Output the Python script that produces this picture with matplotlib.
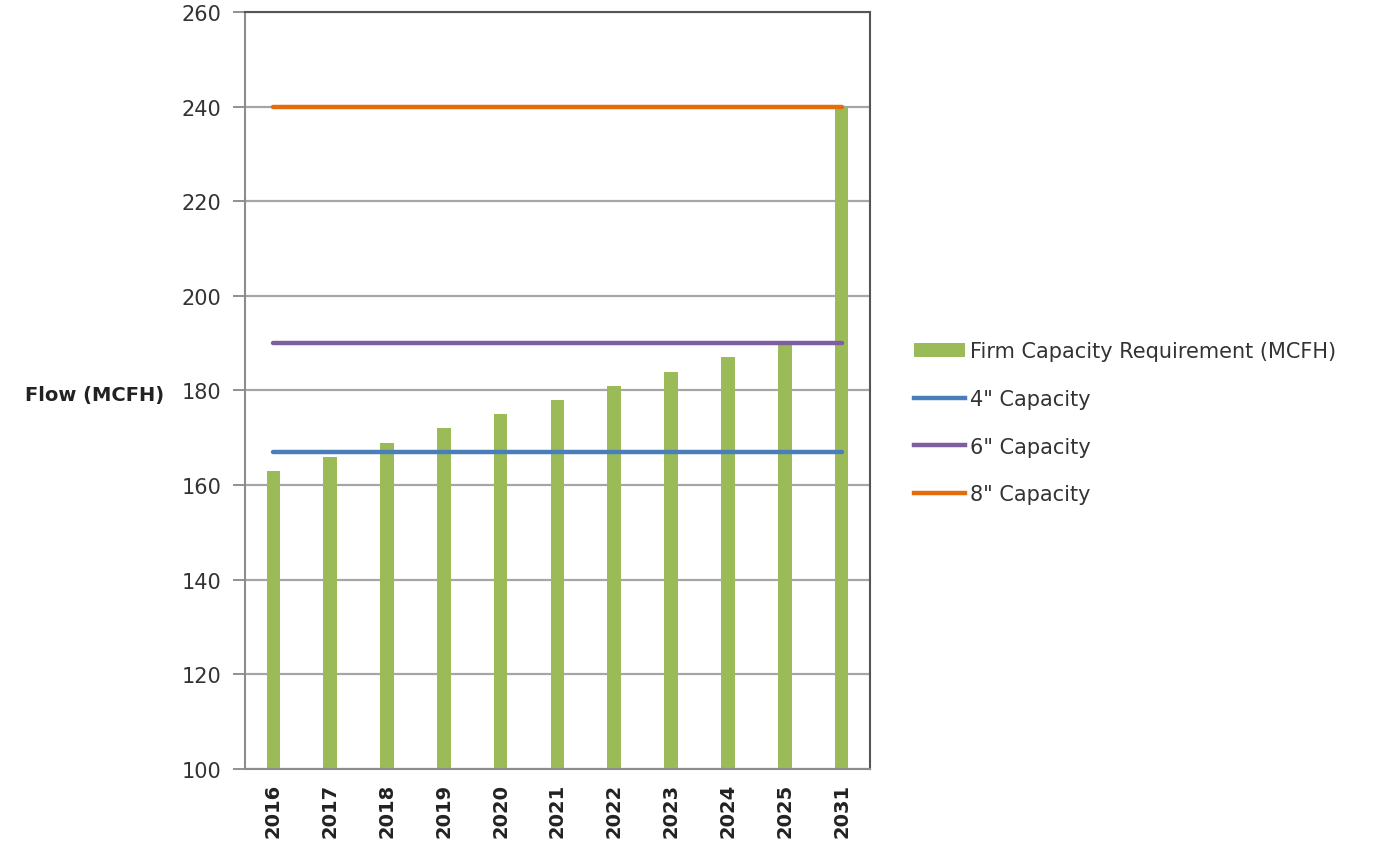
import matplotlib
matplotlib.use("Agg")
import matplotlib.pyplot as plt
from matplotlib.lines import Line2D
from matplotlib.patches import Patch

years = ["2016", "2017", "2018", "2019", "2020", "2021", "2022", "2023", "2024", "2025", "2031"]
firm_requirement = [163, 166, 169, 172, 175, 178, 181, 184, 187, 190, 240]
cap_4in = 167
cap_6in = 190
cap_8in = 240
y_ticks = [100, 120, 140, 160, 180, 200, 220, 240, 260]

plt.rcParams['font.family'] = ['DejaVu Sans']

fig = plt.figure(figsize=(13.92, 8.45), dpi=100)
ax = fig.add_axes([0.176, 0.0888, 0.449, 0.8958])

x = list(range(len(years)))
green = "#9BBB59"
blue = "#4A7EBB"
purple = "#7D5FA0"
orange = "#E46C0A"

ax.bar(x, firm_requirement, width=0.24, color=green, zorder=2)
ax.plot(x, [cap_4in] * len(x), color=blue, lw=3.2, solid_capstyle="round", zorder=3)
ax.plot(x, [cap_6in] * len(x), color=purple, lw=3.2, solid_capstyle="round", zorder=3)
ax.plot(x, [cap_8in] * len(x), color=orange, lw=3.2, solid_capstyle="round", zorder=3)

ax.set_xlim(-0.5, len(x) - 0.5)
ax.set_ylim(100, 260)
ax.set_yticks(y_ticks)
ax.set_yticklabels([str(v) for v in y_ticks], fontsize=15, color="#333333")
ax.set_xticks(x)
ax.set_xticklabels(years, rotation=90, fontsize=14, fontweight="bold", color="#222222")
ax.tick_params(axis="y", length=9, width=1.3, color="#888888", pad=8)
ax.tick_params(axis="x", length=0, pad=10)

ax.yaxis.grid(True, color="#A6A6A6", lw=1.6, zorder=0)
ax.set_axisbelow(True)
for side in ["left", "bottom"]:
    ax.spines[side].set_color("#8C8C8C")
    ax.spines[side].set_linewidth(1.5)
for side in ["top", "right"]:
    ax.spines[side].set_color("#555555")
    ax.spines[side].set_linewidth(1.5)

fig.text(0.018, 0.532, "Flow (MCFH)", fontsize=14, fontweight="bold", color="#222222",
         ha="left", va="center")

handles = [
    Patch(facecolor=green, edgecolor="none"),
    Line2D([0], [0], color=blue, lw=3.2),
    Line2D([0], [0], color=purple, lw=3.2),
    Line2D([0], [0], color=orange, lw=3.2),
]
labels = ["Firm Capacity Requirement (MCFH)", "4\" Capacity", "6\" Capacity", "8\" Capacity"]
leg = fig.legend(handles, labels, loc="upper left", bbox_to_anchor=(0.6505, 0.605),
                 frameon=False, fontsize=15, handlelength=2.45, handleheight=0.7,
                 handletextpad=0.25, labelspacing=1.33, borderaxespad=0)
for t in leg.get_texts():
    t.set_color("#333333")

fig.savefig("out.png", dpi=100, facecolor="white")
